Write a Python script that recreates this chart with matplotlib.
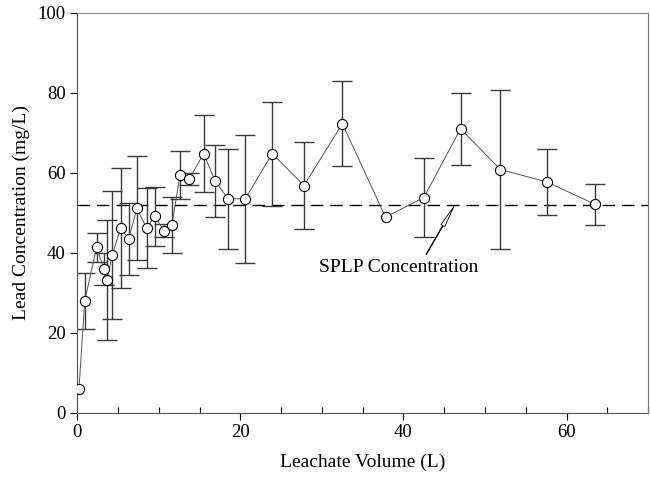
import matplotlib
matplotlib.use("Agg")
import matplotlib.pyplot as plt
import numpy as np
from matplotlib.ticker import MultipleLocator

plt.rcParams['font.family'] = ['Liberation Serif', 'DejaVu Serif']

# Leachate volume (L) and lead concentration (mg/L)
volume = [0.2, 0.9, 2.35, 3.3, 3.6, 4.3, 5.3, 6.3, 7.3, 8.5, 9.5, 10.6, 11.6,
          12.6, 13.7, 15.5, 16.9, 18.5, 20.6, 23.9, 27.8, 32.5, 37.8, 42.5,
          47.0, 51.9, 57.6, 63.5]
lead = [6.0, 27.8, 41.3, 35.9, 33.1, 39.5, 46.1, 43.5, 51.1, 46.1, 49.1, 45.5,
        47.0, 59.5, 58.4, 64.8, 57.9, 53.5, 53.5, 64.8, 56.8, 72.3, 48.9, 53.8,
        71.0, 60.8, 57.7, 52.1]
lead_err = [0.0, 7.0, 3.6, 4.0, 15.0, 16.0, 15.0, 9.0, 13.0, 10.0, 7.4, 1.6,
            7.0, 6.0, 1.5, 9.7, 9.0, 12.5, 16.0, 13.0, 11.0, 10.6, 0.0, 9.8,
            9.0, 20.0, 8.3, 5.2]
splp = 52.0

fig = plt.figure(figsize=(6.5, 4.78), dpi=100)
ax = fig.add_axes([0.119, 0.137, 0.878, 0.836])

# only points that have a measured spread get error bars
v = np.array(volume)
c = np.array(lead)
e = np.array(lead_err)
has_err = e > 0
ax.errorbar(v[has_err], c[has_err], yerr=e[has_err], fmt='none', ecolor='#3a3a3a',
            elinewidth=1.0, capsize=7, capthick=1.0, zorder=2)
ax.plot(volume, lead, color='#555555', lw=0.7, zorder=3)
ax.plot(volume, lead, 'o', ms=7.3, mfc='white', mec='black', mew=0.8, zorder=4)

ax.axhline(splp, color='black', lw=1.0, dashes=(9, 5), zorder=1)

ax.text(39.4, 36.4, 'SPLP Concentration', ha='center', va='center', fontsize=14)
ax.annotate('', xy=(46.2, 51.6), xytext=(42.8, 39.6),
            arrowprops=dict(arrowstyle='simple,head_width=0.3,head_length=1.6,tail_width=0.04',
                            fc='white', ec='black', lw=0.6,
                            shrinkA=0, shrinkB=0))

ax.set_xlim(0, 70)
ax.set_ylim(0, 100)
ax.xaxis.set_major_locator(MultipleLocator(20))
ax.xaxis.set_minor_locator(MultipleLocator(5))
ax.yaxis.set_major_locator(MultipleLocator(20))
ax.tick_params(axis='x', which='major', direction='out', length=5, width=0.8)
ax.tick_params(axis='x', which='minor', direction='in', length=4, width=0.8)
ax.tick_params(axis='y', which='major', direction='out', length=5, width=0.8)
ax.tick_params(labelsize=13.5)

for s in ['left', 'bottom', 'right', 'top']:
    ax.spines[s].set_linewidth(0.8)
    ax.spines[s].set_color('#555555')
ax.spines['top'].set_color('#888888')
ax.spines['right'].set_color('#777777')

ax.set_xlabel('Leachate Volume (L)', fontsize=14, labelpad=9)
ax.set_ylabel('Lead Concentration (mg/L)', fontsize=14, labelpad=5)

fig.savefig('out.png', dpi=100)
